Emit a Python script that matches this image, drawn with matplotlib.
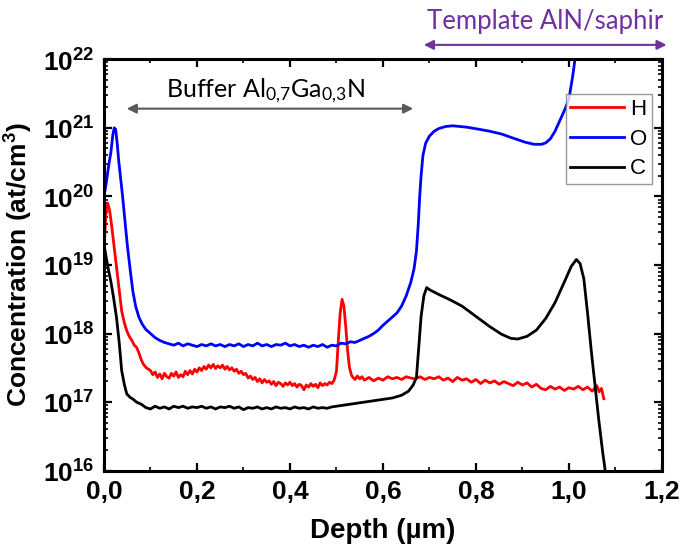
import numpy as np
import matplotlib
matplotlib.use("Agg")
import matplotlib.pyplot as plt
from matplotlib.ticker import FuncFormatter, MultipleLocator, LogLocator, NullFormatter

# ---- donnees (profondeur en um, log10 de la concentration) ----
H_depth = [0.000, 0.004, 0.008, 0.012, 0.016, 0.022, 0.027, 0.033, 0.038, 0.044,
           0.049, 0.055, 0.060, 0.065, 0.070, 0.075, 0.080, 0.085, 0.091, 0.100,
           0.105, 0.110, 0.115, 0.120, 0.125, 0.130, 0.135, 0.140, 0.145, 0.150,
           0.155, 0.160, 0.165, 0.170, 0.175, 0.180, 0.185, 0.190, 0.195, 0.200,
           0.205, 0.210, 0.215, 0.220, 0.225, 0.230, 0.235, 0.240, 0.245, 0.250,
           0.255, 0.260, 0.265, 0.270, 0.275, 0.280, 0.285, 0.290, 0.295, 0.300,
           0.305, 0.310, 0.315, 0.320, 0.325, 0.330, 0.335, 0.340, 0.345, 0.350,
           0.355, 0.360, 0.365, 0.370, 0.375, 0.380, 0.385, 0.390, 0.395, 0.400,
           0.405, 0.410, 0.415, 0.420, 0.425, 0.430, 0.435, 0.440, 0.445, 0.450,
           0.455, 0.460, 0.465, 0.470, 0.475, 0.480, 0.485, 0.490, 0.495, 0.500,
           0.504, 0.508, 0.512, 0.516, 0.520, 0.524, 0.528, 0.533, 0.540, 0.545,
           0.550, 0.555, 0.560, 0.570, 0.580, 0.590, 0.600, 0.610, 0.620, 0.630,
           0.640, 0.650, 0.660, 0.670, 0.680, 0.690, 0.700, 0.710, 0.720, 0.730,
           0.740, 0.750, 0.760, 0.770, 0.780, 0.790, 0.800, 0.810, 0.820, 0.830,
           0.840, 0.850, 0.860, 0.870, 0.880, 0.890, 0.900, 0.910, 0.920, 0.930,
           0.940, 0.950, 0.960, 0.970, 0.980, 0.990, 1.000, 1.010, 1.020, 1.030,
           1.040, 1.050, 1.060, 1.065, 1.070, 1.075]
H_exp = [19.20, 19.75, 19.90, 19.80, 19.60, 19.25, 18.96, 18.60, 18.33, 18.15,
         18.04, 17.95, 17.90, 17.83, 17.80, 17.72, 17.62, 17.55, 17.50, 17.46,
         17.40, 17.44, 17.36, 17.41, 17.34, 17.42, 17.37, 17.35, 17.42, 17.38,
         17.44, 17.36, 17.40, 17.37, 17.45, 17.40, 17.46, 17.41, 17.48, 17.44,
         17.50, 17.46, 17.52, 17.48, 17.54, 17.50, 17.55, 17.49, 17.53, 17.50,
         17.54, 17.48, 17.52, 17.47, 17.50, 17.45, 17.48, 17.42, 17.45, 17.40,
         17.42, 17.35, 17.38, 17.33, 17.36, 17.30, 17.34, 17.28, 17.33, 17.29,
         17.31, 17.26, 17.30, 17.24, 17.29, 17.27, 17.23, 17.28, 17.25, 17.29,
         17.24, 17.27, 17.22, 17.26, 17.24, 17.18, 17.25, 17.22, 17.27, 17.23,
         17.26, 17.21, 17.28, 17.24, 17.27, 17.25, 17.29, 17.27, 17.32, 17.45,
         17.90, 18.30, 18.50, 18.40, 18.10, 17.75, 17.50, 17.38, 17.33, 17.38,
         17.34, 17.37, 17.32, 17.36, 17.31, 17.35, 17.32, 17.37, 17.34, 17.36,
         17.33, 17.37, 17.35, 17.34, 17.37, 17.33, 17.36, 17.34, 17.37, 17.32,
         17.35, 17.30, 17.36, 17.32, 17.34, 17.29, 17.33, 17.27, 17.32, 17.28,
         17.31, 17.26, 17.30, 17.27, 17.24, 17.29, 17.25, 17.28, 17.22, 17.26,
         17.20, 17.18, 17.23, 17.19, 17.22, 17.17, 17.21, 17.19, 17.23, 17.18,
         17.22, 17.16, 17.24, 17.15, 17.20, 17.05]

O_depth = [0.000, 0.005, 0.010, 0.015, 0.019, 0.022, 0.025, 0.028, 0.032, 0.036,
           0.040, 0.045, 0.050, 0.056, 0.062, 0.068, 0.075, 0.082, 0.090, 0.100,
           0.110, 0.120, 0.130, 0.140, 0.150, 0.160, 0.170, 0.180, 0.190, 0.200,
           0.210, 0.220, 0.230, 0.240, 0.250, 0.260, 0.270, 0.280, 0.290, 0.300,
           0.310, 0.320, 0.330, 0.340, 0.350, 0.360, 0.370, 0.380, 0.390, 0.400,
           0.410, 0.420, 0.430, 0.440, 0.450, 0.460, 0.470, 0.480, 0.490, 0.500,
           0.510, 0.520, 0.530, 0.540, 0.550, 0.560, 0.570, 0.580, 0.590, 0.600,
           0.610, 0.620, 0.630, 0.640, 0.650, 0.660, 0.667, 0.672, 0.676, 0.679,
           0.682, 0.686, 0.692, 0.700, 0.710, 0.720, 0.735, 0.750, 0.780, 0.806,
           0.830, 0.855, 0.880, 0.906, 0.925, 0.941, 0.950, 0.960, 0.970, 0.980,
           0.990, 1.000, 1.008, 1.013, 1.020]
O_exp = [20.00, 20.20, 20.45, 20.65, 20.90, 21.00, 20.98, 20.80, 20.50, 20.25,
         20.00, 19.65, 19.30, 18.95, 18.62, 18.40, 18.24, 18.14, 18.06, 18.00,
         17.94, 17.90, 17.87, 17.85, 17.83, 17.86, 17.82, 17.85, 17.83, 17.81,
         17.84, 17.82, 17.85, 17.82, 17.84, 17.81, 17.84, 17.82, 17.85, 17.81,
         17.84, 17.82, 17.86, 17.82, 17.84, 17.81, 17.84, 17.83, 17.86, 17.82,
         17.84, 17.81, 17.83, 17.80, 17.83, 17.81, 17.84, 17.80, 17.83, 17.82,
         17.86, 17.85, 17.88, 17.87, 17.90, 17.93, 17.96, 18.00, 18.05, 18.12,
         18.18, 18.24, 18.30, 18.40, 18.55, 18.75, 18.95, 19.20, 19.60, 20.00,
         20.30, 20.60, 20.78, 20.88, 20.95, 20.99, 21.02, 21.03, 21.01, 20.98,
         20.95, 20.91, 20.85, 20.79, 20.76, 20.76, 20.78, 20.84, 20.95, 21.10,
         21.25, 21.42, 21.75, 22.00, 22.40]

C_depth = [0.000, 0.005, 0.010, 0.015, 0.020, 0.027, 0.033, 0.038, 0.044, 0.049,
           0.056, 0.063, 0.070, 0.080, 0.090, 0.100, 0.110, 0.120, 0.130, 0.140,
           0.150, 0.160, 0.170, 0.180, 0.190, 0.200, 0.210, 0.220, 0.230, 0.240,
           0.250, 0.260, 0.270, 0.280, 0.290, 0.300, 0.310, 0.320, 0.330, 0.340,
           0.350, 0.360, 0.370, 0.380, 0.390, 0.400, 0.410, 0.420, 0.430, 0.440,
           0.450, 0.460, 0.470, 0.480, 0.490, 0.500, 0.520, 0.540, 0.560, 0.580,
           0.600, 0.620, 0.640, 0.655, 0.665, 0.672, 0.677, 0.682, 0.688, 0.694,
           0.700, 0.720, 0.745, 0.770, 0.790, 0.806, 0.830, 0.855, 0.875, 0.890,
           0.910, 0.930, 0.950, 0.970, 0.990, 1.005, 1.016, 1.024, 1.032, 1.040,
           1.048, 1.056, 1.064, 1.072, 1.078, 1.082]
C_exp = [19.30, 19.10, 18.92, 18.75, 18.55, 18.23, 17.85, 17.46, 17.25, 17.12,
         17.07, 17.04, 17.00, 16.97, 16.92, 16.90, 16.94, 16.91, 16.93, 16.90,
         16.94, 16.92, 16.94, 16.91, 16.93, 16.92, 16.94, 16.91, 16.93, 16.90,
         16.93, 16.92, 16.94, 16.91, 16.93, 16.89, 16.92, 16.91, 16.93, 16.90,
         16.92, 16.90, 16.93, 16.91, 16.92, 16.90, 16.93, 16.91, 16.92, 16.90,
         16.93, 16.91, 16.92, 16.91, 16.93, 16.94, 16.96, 16.98, 17.00, 17.02,
         17.04, 17.06, 17.10, 17.16, 17.25, 17.36, 17.80, 18.25, 18.55, 18.67,
         18.64, 18.57, 18.49, 18.40, 18.30, 18.22, 18.10, 17.99, 17.93, 17.92,
         17.96, 18.05, 18.22, 18.45, 18.75, 18.98, 19.08, 19.02, 18.80, 18.30,
         17.75, 17.25, 16.75, 16.30, 16.00, 15.80]

x_ticks = [0.0, 0.2, 0.4, 0.6, 0.8, 1.0, 1.2]
y_decades = [16, 17, 18, 19, 20, 21, 22]

plt.rcParams['mathtext.fontset'] = 'custom'
plt.rcParams['mathtext.rm'] = 'Liberation Sans:bold'
plt.rcParams['mathtext.bf'] = 'Liberation Sans:bold'

fig = plt.figure(figsize=(6.81, 5.54), dpi=100)
ax = fig.add_axes([0.1527, 0.1504, 0.8193, 0.7426])

ax.plot(H_depth, 10 ** np.array(H_exp), color='#ff0000', lw=2.0, label='H')
ax.plot(O_depth, 10 ** np.array(O_exp), color='#0000ff', lw=2.0, label='O')
ax.plot(C_depth, 10 ** np.array(C_exp), color='black', lw=2.0, label='C')

ax.set_yscale('log')
ax.set_xlim(0, 1.2)
ax.set_ylim(10.0 ** y_decades[0], 10.0 ** y_decades[-1])

ax.set_xticks(x_ticks)
ax.xaxis.set_minor_locator(MultipleLocator(0.1))
ax.xaxis.set_major_formatter(FuncFormatter(lambda v, p: ('%.1f' % v).replace('.', ',')))
ax.set_yticks([10.0 ** d for d in y_decades])
ax.yaxis.set_minor_locator(LogLocator(base=10, subs=np.arange(2, 10)))
ax.yaxis.set_minor_formatter(NullFormatter())
ax.yaxis.set_major_formatter(FuncFormatter(lambda v, p: r'$10^{%d}$' % round(np.log10(v))))

ax.tick_params(which='both', direction='in', top=True, right=True)
ax.tick_params(which='major', length=6, width=1.6, pad=7)
ax.tick_params(which='minor', length=3, width=1.2)
for lab in ax.get_xticklabels():
    lab.set_fontfamily('Liberation Sans')
    lab.set_fontweight('bold')
    lab.set_fontsize(19)
for lab in ax.get_yticklabels():
    lab.set_fontsize(19)
for sp in ax.spines.values():
    sp.set_linewidth(2.2)

ax.set_xlabel('Depth (µm)', fontsize=20, fontweight='bold', family='Liberation Sans', labelpad=10)
ax.set_ylabel('Concentration (at/cm$^3$)', fontsize=19, fontweight='bold',
              family='Liberation Sans', labelpad=6)

leg = ax.legend(loc='upper right', bbox_to_anchor=(0.982, 0.915),
                prop={'family': 'Liberation Sans', 'size': 16},
                handlelength=2.4, handletextpad=0.3, labelspacing=0.4,
                borderpad=0.2, borderaxespad=0, fancybox=False)
leg.get_frame().set_edgecolor('#808080')
leg.get_frame().set_linewidth(1.0)

# fleche buffer
ax.annotate('', xy=(0.049, 10 ** 21.28), xytext=(0.665, 10 ** 21.28),
            arrowprops=dict(arrowstyle='<|-|>', color='#595959', lw=1.5, mutation_scale=14,
                            shrinkA=0, shrinkB=0))
ax.text(0.348, 10 ** 21.55, r'Buffer Al$\mathregular{_{0{,}7}}$Ga$\mathregular{_{0{,}3}}$N',
        ha='center', va='center', fontsize=18, family='Lato', color='black')

# fleche template
ax.annotate('', xy=(0.688, 1.035), xytext=(1.21, 1.035),
            xycoords=('data', 'axes fraction'), textcoords=('data', 'axes fraction'),
            annotation_clip=False,
            arrowprops=dict(arrowstyle='<|-|>', color='#7030a0', lw=1.5, mutation_scale=14,
                            shrinkA=0, shrinkB=0))
ax.text(0.79, 1.091, 'Template AlN/saphir', transform=ax.transAxes, ha='center', va='center',
        fontsize=18.5, family='Lato', color='#7030a0', clip_on=False)

fig.savefig('out.png', dpi=100)
